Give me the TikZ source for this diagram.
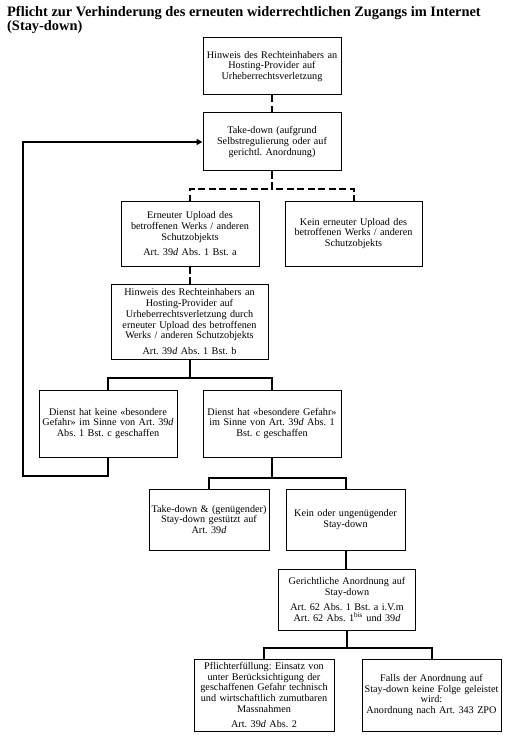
\documentclass[tikz,border=0pt]{standalone}
\usepackage{fontspec}
\setmainfont{Liberation Serif}
\usetikzlibrary{arrows.meta,calc}
\frenchspacing
\tikzset{
  box/.style={draw=black, line width=1pt, fill=white, inner sep=0pt, align=center,
    font=\fontsize{10.2}{10.8}\selectfont\frenchspacing},
  conn/.style={line width=2pt},
  dconn/.style={line width=2pt, dash pattern=on 7pt off 3.5pt},
  titletext/.style={anchor=base west, inner sep=0pt, font=\fontsize{14.4}{15}\selectfont\bfseries}
}
\newcommand{\artgap}{\\[4.5pt]}
\begin{document}
\begin{tikzpicture}[x=1pt,y=-1pt]
\useasboundingbox[fill=white] (0,0) rectangle (527,746);
\node[titletext] (t1) at (7,16.5) {Pflicht zur Verhinderung des erneuten widerrechtlichen Zugangs im Internet};
\node[titletext] (t2) at (7,30.5) {(Stay-down)};

\node[box, minimum width=138pt, minimum height=57pt, text width=136pt] (b1) at (272,66.5)
  {Hinweis des Rechteinhabers an\\ Hosting-Provider auf\\ Urheberrechtsverletzung};
\node[box, minimum width=138pt, minimum height=58pt, text width=136pt] (b2) at (272,142)
  {Take-down (aufgrund\\ Selbstregulierung oder auf\\ gerichtl. Anordnung)};
\node[box, minimum width=138pt, minimum height=65pt, text width=136pt] (b3) at (190,233.5)
  {Erneuter Upload des\\ betroffenen Werks / anderen\\ Schutzobjekts\artgap Art. 39\textit{d} Abs. 1 Bst. a};
\node[box, minimum width=137pt, minimum height=65pt, text width=135pt] (b4) at (353.5,233.5)
  {Kein erneuter Upload des\\ betroffenen Werks / anderen\\ Schutzobjekts};
\node[box, minimum width=157pt, minimum height=75pt, text width=155pt] (b5) at (189.5,321.5)
  {Hinweis des Rechteinhabers an\\ Hosting-Provider auf\\ Urheberrechtsverletzung durch\\ erneuter Upload des betroffenen\\ Werks / anderen Schutzobjekts\artgap Art. 39\textit{d} Abs. 1 Bst. b};
\node[box, minimum width=138pt, minimum height=67pt, text width=136pt] (b6) at (108,423.5)
  {Dienst hat keine «besondere\\ Gefahr» im Sinne von Art. 39\textit{d}\\ Abs. 1 Bst. c geschaffen};
\node[box, minimum width=138pt, minimum height=67pt, text width=136pt] (b7) at (272,423.5)
  {Dienst hat «besondere Gefahr»\\ im Sinne von Art. 39\textit{d} Abs. 1\\ Bst. c geschaffen};
\node[box, minimum width=120pt, minimum height=61pt, text width=119pt] (b8) at (209,519.5)
  {Take-down \& (genügender)\\ Stay-down gestützt auf\\ Art. 39\textit{d}};
\node[box, minimum width=119pt, minimum height=61pt, text width=117pt] (b9) at (345.5,519.5)
  {Kein oder ungenügender\\ Stay-down};
\node[box, minimum width=137pt, minimum height=61pt, text width=135pt] (b10) at (347,599.5)
  {Gerichtliche Anordnung auf\\ Stay-down\artgap Art. 62 Abs. 1 Bst. a i.V.m\\ Art. 62 Abs. 1\textsuperscript{bis} und 39\textit{d}};
\node[box, minimum width=140pt, minimum height=72pt, text width=139pt] (b11) at (264,695)
  {Pflichterfüllung: Einsatz von\\ unter Berücksichtigung der\\ geschaffenen Gefahr technisch\\ und wirtschaftlich zumutbaren\\ Massnahmen\artgap Art. 39\textit{d} Abs. 2};
\node[box, minimum width=139pt, minimum height=72pt, text width=138pt] (b12) at (431.5,695)
  {Falls der Anordnung auf\\ Stay-down keine Folge geleistet\\ wird:\\ Anordnung nach Art. 343 ZPO};

% connectors
\draw[dconn] (b1.south) -- (b2.north);
\draw[dconn] (b2.south) -- ++(0,17) -| (b3.north);
\draw[dconn] (b2.south) -- ++(0,17) -| (b4.north);
\draw[dconn] (b3.south) -- (b3.south |- b5.north);
\draw[conn] (b5.south) -- ++(0,18) -| (b6.north);
\draw[conn] (b5.south) -- ++(0,18) -| (b7.north);
\coordinate (loop) at (23,476);
\draw[conn, -{Triangle[length=6pt,width=6pt]}] (b6.south) |- (loop) |- (b2.west);
\draw[conn] (b7.south) -- ++(0,20) -| (b8.north);
\draw[conn] (b7.south) -- ++(0,20) -| (b9.north);
\draw[conn] (b9.south) -- (b9.south |- b10.north);
\draw[conn] (b10.south) -- ++(0,17) -| (b11.north);
\draw[conn] (b10.south) -- ++(0,17) -| (b12.north);
\end{tikzpicture}
\end{document}
